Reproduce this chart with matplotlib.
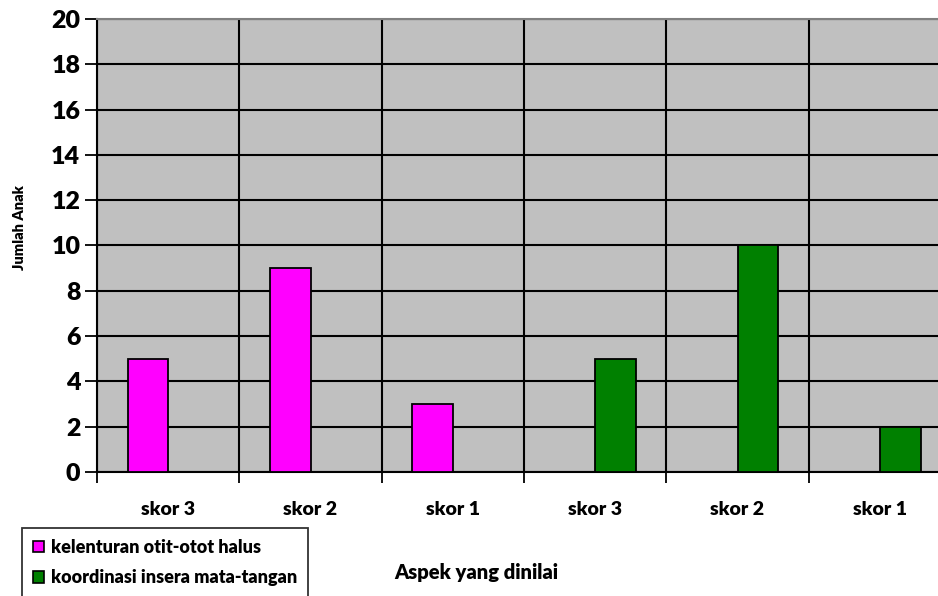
import matplotlib
matplotlib.use("Agg")
import matplotlib.pyplot as plt
import numpy as np
from matplotlib.patches import Patch

categories = ["skor 3", "skor 2", "skor 1", "skor 3", "skor 2", "skor 1"]
series_names = ["kelenturan otit-otot halus", "koordinasi insera mata-tangan"]
kelenturan = [5, 9, 3, 0, 0, 0]
koordinasi = [0, 0, 0, 5, 10, 2]
y_ticks = [0, 2, 4, 6, 8, 10, 12, 14, 16, 18, 20]

W = 'heavy'
plt.rcParams['font.family'] = ['Lato', 'DejaVu Sans']
plt.rcParams['font.weight'] = W

fig = plt.figure(figsize=(9.38, 5.96), dpi=100)
ax = fig.add_axes([97/938, 1-472/596, 854/938, (472-19)/596])
ax.set_facecolor('#c0c0c0')

x = np.arange(len(categories))
w = 1/3.5
colors = ['#ff00ff', '#008000']
for vals, off, c in [(kelenturan, -w/2, colors[0]), (koordinasi, w/2, colors[1])]:
    v = np.array(vals, dtype=float)
    v[v == 0] = np.nan
    ax.bar(x + off, v, width=w, color=c, edgecolor='black', linewidth=1.3, zorder=3)

ax.set_xlim(-0.5, len(categories) - 0.5)
ax.set_ylim(0, 20)
ax.set_yticks(y_ticks)
ax.set_yticklabels([str(t) for t in y_ticks], fontsize=18, fontweight=W)
ax.tick_params(axis='y', length=9, width=1.3, pad=3)

# category boundaries as major ticks, labels as minor
ax.set_xticks(np.arange(len(categories) + 1) - 0.5)
ax.set_xticklabels([])
ax.tick_params(axis='x', which='major', length=8, width=1.3)
ax.set_xticks(x, minor=True)
ax.set_xticklabels(categories, minor=True, fontsize=14, fontweight=W)
ax.tick_params(axis='x', which='minor', length=0, pad=21)

ax.grid(True, which='major', color='black', linewidth=1.5, zorder=1)
ax.set_axisbelow(True)
for s in ['left', 'bottom']:
    ax.spines[s].set_linewidth(1.5)
    ax.spines[s].set_color('black')
ax.spines['top'].set_color('#808080')
ax.spines['top'].set_linewidth(1.5)
ax.spines['right'].set_visible(False)

fig.text(20/938, 1-228/596, "Jumlah Anak", rotation=90, fontsize=10.5, fontweight=W,
         ha='center', va='center')
fig.text(476/938, 1-572/596, "Aspek yang dinilai", fontsize=14.5, fontweight=W,
         ha='center', va='center')

handles = [Patch(facecolor=colors[0], edgecolor='black', linewidth=1.2),
           Patch(facecolor=colors[1], edgecolor='black', linewidth=1.2)]
leg = fig.legend(handles, series_names, loc='upper left',
                 bbox_to_anchor=(22/938, 1-528/596), frameon=True, fancybox=False,
                 edgecolor='black', prop={'weight': W, 'size': 13},
                 handlelength=0.6, handleheight=0.6, handletextpad=0.4,
                 labelspacing=0.75, borderpad=0.6, borderaxespad=0)
leg.get_frame().set_linewidth(1.3)

fig.savefig('out.png', dpi=100)
